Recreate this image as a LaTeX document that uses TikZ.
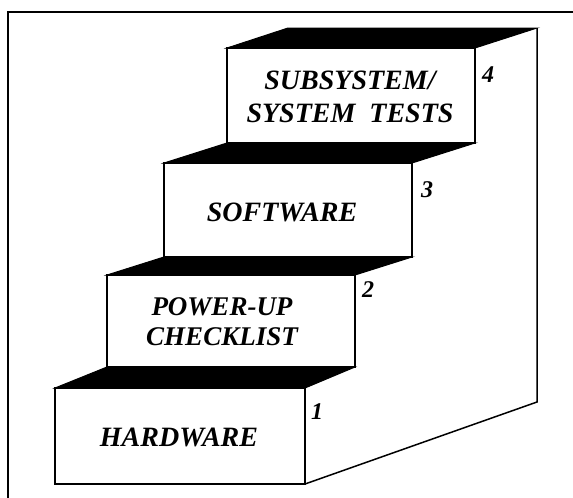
\documentclass[tikz,border=0pt]{standalone}
\usepackage{fontspec}
\setmainfont{Liberation Serif}
\begin{document}
\begin{tikzpicture}[x=1pt,y=-1pt,
  edge/.style={line width=1.5pt, line join=miter},
  topface/.style={fill=black, draw=black, line width=1pt, line join=miter},
  steplabel/.style={font=\fontsize{28}{33}\selectfont\bfseries\itshape, align=center, inner sep=0pt},
  stepnum/.style={font=\fontsize{24}{26}\selectfont\bfseries\itshape, inner sep=0pt}]
\useasboundingbox (0,0) rectangle (573,498);
% frame
\draw[line width=2.2pt] (8,498) -- (8,12) -- (573,12);
% black top faces
\fill[topface] (227,48) -- (288,28) -- (537,28) -- (475,48) -- cycle;
\fill[topface] (164,163) -- (227,143) -- (475,143) -- (412,163) -- cycle;
\fill[topface] (107,275) -- (164,257) -- (412,257) -- (355,275) -- cycle;
\fill[topface] (55,388) -- (107,367) -- (355,367) -- (305,388) -- cycle;
% front faces
\draw[edge] (227,48) rectangle (475,143);
\draw[edge] (164,163) rectangle (412,257);
\draw[edge] (107,275) rectangle (355,367);
\draw[edge] (55,388) rectangle (305,484);
% side panel
\draw[edge] (537,28) -- (537,402) -- (305,484);
% labels
\node[steplabel] (s4) at (350,97) {SUBSYSTEM/\\SYSTEM\ \ TESTS};
\node[steplabel] (s3) at (282,212) {SOFTWARE};
\node[steplabel, font=\fontsize{27}{30}\selectfont\bfseries\itshape] (s2) at (222,322) {POWER-UP\\CHECKLIST};
\node[steplabel] (s1) at (179,437) {HARDWARE};
\node[stepnum] (n4) at (488,75) {4};
\node[stepnum] (n3) at (427,190) {3};
\node[stepnum] (n2) at (368,290) {2};
\node[stepnum] (n1) at (317,412) {1};
\end{tikzpicture}
\end{document}
